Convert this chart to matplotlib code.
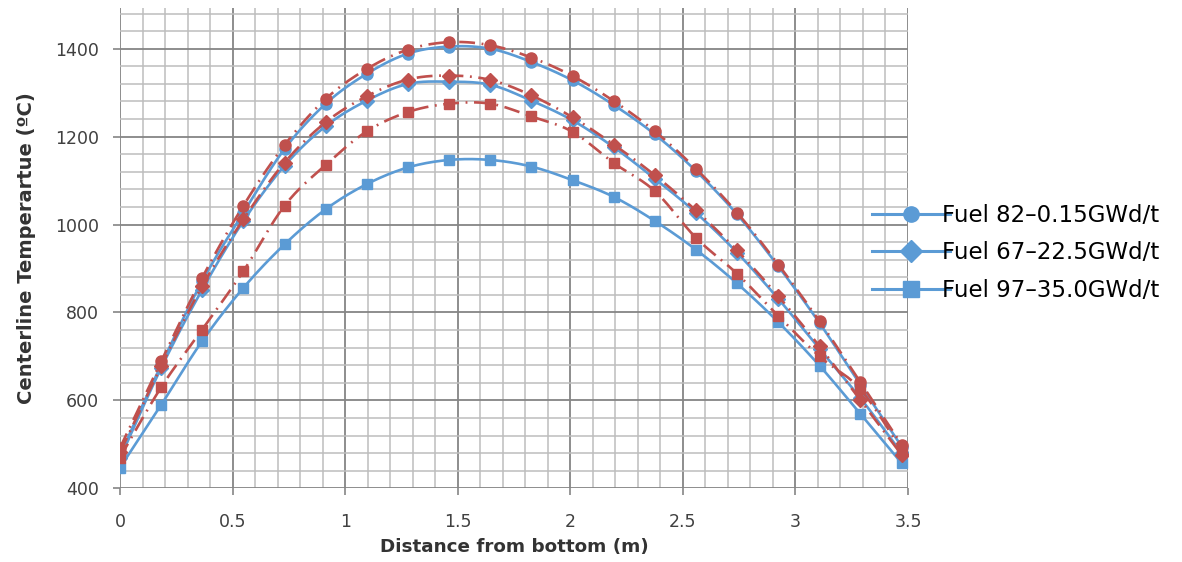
import matplotlib
matplotlib.use("Agg")
import matplotlib.pyplot as plt
from matplotlib.lines import Line2D
from matplotlib.ticker import MultipleLocator
import numpy as np

# distance from bottom (m), 20 axial nodes
dist = [0.0, 0.183, 0.365, 0.548, 0.731, 0.914, 1.096, 1.279, 1.462, 1.645,
        1.827, 2.010, 2.193, 2.376, 2.558, 2.741, 2.924, 3.107, 3.289, 3.472]

# blue series (solid, in legend)
fuel82_blue = [475, 681, 871, 1027, 1172, 1275, 1343, 1389, 1405, 1400,
               1370, 1328, 1272, 1205, 1122, 1023, 905, 776, 635, 495]
fuel67_blue = [468, 674, 852, 1008, 1134, 1224, 1282, 1320, 1325, 1318,
               1282, 1237, 1176, 1104, 1027, 936, 831, 717, 605, 480]
fuel97_blue = [447, 590, 735, 856, 955, 1035, 1092, 1130, 1147, 1147,
               1132, 1101, 1063, 1008, 943, 866, 778, 679, 569, 457]

# red series (dash-dot, not in legend)
fuel82_red = [492, 689, 879, 1043, 1181, 1286, 1354, 1398, 1415, 1408,
              1380, 1338, 1281, 1212, 1127, 1027, 909, 780, 641, 499]
fuel67_red = [482, 678, 860, 1012, 1141, 1233, 1292, 1330, 1339, 1329,
              1294, 1244, 1182, 1112, 1032, 941, 837, 723, 600, 476]
fuel97_red = [470, 630, 761, 894, 1043, 1136, 1212, 1256, 1275, 1275,
              1246, 1211, 1140, 1076, 970, 888, 792, 700, 625, 487]

labels = ["Fuel 82\u20130.15GWd/t", "Fuel 67\u201322.5GWd/t", "Fuel 97\u201335.0GWd/t"]
markers = ["o", "D", "s"]

BLUE = "#5b9bd5"
RED = "#c0504d"


def smooth(x, y, n=16):
    # Catmull-Rom als Bezier, so wie Excel "geglaettete Linien"
    pts = np.column_stack([x, y]).astype(float)
    ext = np.vstack([pts[0], pts, pts[-1]])
    t = np.linspace(0, 1, n, endpoint=False)[:, None]
    out = []
    for i in range(len(pts) - 1):
        p0, p1, p2, p3 = ext[i], ext[i + 1], ext[i + 2], ext[i + 3]
        c1 = p1 + (p2 - p0) / 6
        c2 = p2 - (p3 - p1) / 6
        seg = (1 - t)**3 * p1 + 3 * (1 - t)**2 * t * c1 + 3 * (1 - t) * t**2 * c2 + t**3 * p2
        out.append(seg)
    out.append(pts[-1:])
    out = np.vstack(out)
    return out[:, 0], out[:, 1]


fig = plt.figure(figsize=(11.82, 5.62), dpi=100)
ax = fig.add_axes([120 / 1182, 1 - 488.3 / 562, 788 / 1182, 480 / 562])

blue = [fuel82_blue, fuel67_blue, fuel97_blue]
red = [fuel82_red, fuel67_red, fuel97_red]
msize = [8, 7.5, 7.5]

for vals, m, ms in zip(blue, markers, msize):
    sx, sy = smooth(dist, vals)
    ax.plot(sx, sy, color=BLUE, lw=1.9, zorder=3)
    ax.plot(dist, vals, ls="none", marker=m, ms=ms, color=BLUE, zorder=4)

for vals, m, ms in zip(red, markers, msize):
    sx, sy = smooth(dist, vals)
    ax.plot(sx, sy, color=RED, lw=1.9, ls=(0, (6, 2.5, 0.7, 2.5)), zorder=5)
    ax.plot(dist, vals, ls="none", marker=m, ms=ms, color=RED, zorder=6)

ax.set_xlim(0, 3.5)
ax.set_ylim(400, 1492)
ax.xaxis.set_major_locator(MultipleLocator(0.5))
ax.xaxis.set_minor_locator(MultipleLocator(0.1))
ax.yaxis.set_major_locator(MultipleLocator(200))
ax.yaxis.set_minor_locator(MultipleLocator(40))
ax.set_xticks([0, 0.5, 1, 1.5, 2, 2.5, 3, 3.5])
ax.set_xticklabels(["0", "0.5", "1", "1.5", "2", "2.5", "3", "3.5"])

ax.grid(which="minor", color="#bdbdbd", lw=1.1, zorder=0)
ax.grid(which="major", color="#858585", lw=1.3, zorder=1)
ax.set_axisbelow(True)
for s in ax.spines.values():
    s.set_visible(False)

ax.tick_params(which="major", direction="out", length=5, width=1.2, color="#858585",
               labelsize=12.5, labelcolor="#404040")
ax.tick_params(axis="x", pad=13)
ax.tick_params(axis="y", pad=10)
ax.tick_params(which="minor", length=0)

ax.set_xlabel("Distance from bottom (m)", fontsize=13.2, fontweight="bold",
              color="#333333", labelpad=5)
ax.set_ylabel("Centerline Temperartue (\u00baC)", fontsize=14, fontweight="bold",
              color="#333333", labelpad=14)

handles = [Line2D([], [], color=BLUE, lw=2.2, marker=m, ms=11) for m in markers]
leg = ax.legend(handles, labels, loc="center left",
                bbox_to_anchor=(872 / 1182, 1 - 253 / 562), bbox_transform=fig.transFigure,
                frameon=False, fontsize=16.5, handlelength=3.4, handletextpad=-0.35,
                labelspacing=0.62, borderpad=0, borderaxespad=0)
for txt in leg.get_texts():
    txt.set_color("black")

fig.savefig("out.png", dpi=100)
